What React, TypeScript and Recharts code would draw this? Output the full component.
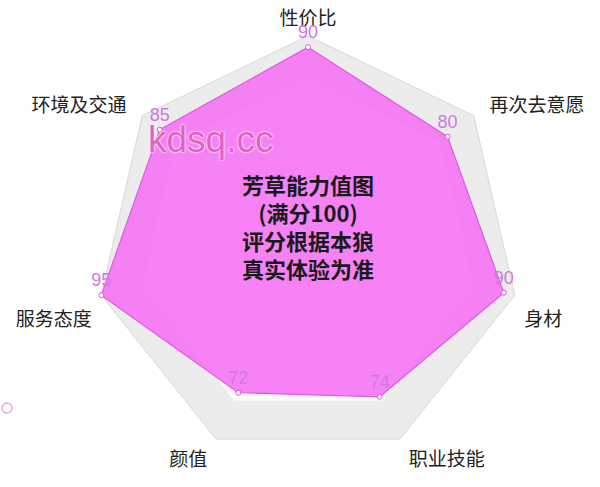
import { RadarChart, Radar, PolarGrid, PolarAngleAxis, PolarRadiusAxis, Legend } from "recharts";

const categories = ["性价比", "再次去意愿", "身材", "职业技能", "颜值", "服务态度", "环境及交通"];
const scores = [90, 80, 90, 74, 72, 95, 85];
const ringLevels = [95, 76, 57, 38, 19];
const ringColors = ["#ececec", "#fcfcfc", "#efefef", "#fcfcfc", "#efefef"];
const titleLines = ["芳草能力值图", "(满分100)", "评分根据本狼", "真实体验为准"];

const data = categories.map((name, i) => {
  const row: Record<string, any> = { name, score: scores[i] };
  ringLevels.forEach((lvl, j) => {
    row[`ring${j}`] = lvl;
  });
  return row;
});

const CJK = '"Noto Sans CJK SC", "Noto Sans", sans-serif';

function AngleTick(props: any) {
  const { cx, cy, payload } = props;
  const ang = (payload.coordinate * Math.PI) / 180;
  const cos = Math.cos(ang);
  const sin = Math.sin(ang);
  const R = 232;
  let x = cx + R * cos;
  let y = cy - R * sin;
  let anchor = "middle";
  if (cos > 0.1) anchor = "start";
  else if (cos < -0.1) anchor = "end";
  if (Math.abs(sin) < 0.5) {
    y += 18;
    x -= cos > 0 ? 10 : -10;
  }
  return (
    <text x={x} y={y} textAnchor={anchor} dominantBaseline="central" fontSize={19} fontFamily={CJK} fill="#222">
      {payload.value}
    </text>
  );
}

function RadiusTick(props: any) {
  const { x, y, payload } = props;
  if (Number(payload?.value) !== 0) return <g />;
  return (
    <text x={x} y={y - 16} textAnchor="middle" fontSize={14} fontFamily="Arial, sans-serif" fill="#e58de8">
      0
    </text>
  );
}

function ScoreDot(props: any) {
  const { cx, cy, payload, index } = props;
  const v = props.value ?? payload?.value ?? payload?.payload?.score ?? payload?.score ?? scores[index];
  return (
    <g>
      <circle cx={cx} cy={cy} r={2.5} fill="#fff" stroke="#d45ad8" strokeWidth={1} />
      <text x={cx} y={cy - 9} textAnchor="middle" fontSize={18} fontFamily="Arial, sans-serif" fill="#cf78e2">
        {v}
      </text>
    </g>
  );
}

function LegendIcon() {
  return (
    <svg width={14} height={14}>
      <circle cx={7} cy={7} r={5} fill="none" stroke="#e6a6e8" strokeWidth={1.5} />
    </svg>
  );
}

export default function App() {
  return (
    <div style={{ position: "absolute", left: 0, top: 0, width: 600, height: 487, background: "#fff" }}>
      <RadarChart width={600} height={487} data={data} cx={308} cy={248} outerRadius={212} startAngle={90} endAngle={-270}>
        {ringLevels.map((lvl, j) => (
          <Radar
            key={lvl}
            dataKey={`ring${j}`}
            stroke={j === 0 ? "#dcdcdc" : "none"}
            fill={ringColors[j]}
            fillOpacity={1}
            dot={false}
            legendType="none"
            isAnimationActive={false}
          />
        ))}
        <PolarGrid gridType="polygon" stroke="#e2e2e2" />
        <PolarAngleAxis dataKey="name" tick={(p: any) => <AngleTick {...p} />} tickLine={false} axisLine={false} />
        <PolarRadiusAxis
          angle={90}
          domain={[0, 95]}
          tickCount={6}
          axisLine={false}
          tick={(p: any) => <RadiusTick {...p} />}
        />
        <Radar
          dataKey="score"
          stroke="#e05ae2"
          strokeWidth={1.2}
          fill="#f574f5"
          fillOpacity={0.9}
          dot={(p: any) => <ScoreDot key={p.index} {...p} />}
          isAnimationActive={false}
        />
        <Legend
          content={() => <LegendIcon />}
          wrapperStyle={{ position: "absolute", left: 0, top: 401, width: 14, height: 14 }}
        />
      </RadarChart>
      <div
        style={{
          position: "absolute",
          left: 148,
          top: 118,
          fontFamily: '"Liberation Sans", Arial, sans-serif',
          fontSize: 37,
          lineHeight: "44px",
          color: "#e062c4",
          textShadow: "0 0 2px #fff, 0 0 2px #fff",
        }}
      >
        kdsq.cc
      </div>
      <div
        style={{
          position: "absolute",
          left: 208,
          top: 170,
          width: 200,
          textAlign: "center",
          fontFamily: CJK,
          fontWeight: 700,
          fontSize: 22,
          lineHeight: "28px",
          color: "#1a1a1a",
        }}
      >
        {titleLines.map((t) => (
          <div key={t}>{t}</div>
        ))}
      </div>
    </div>
  );
}
